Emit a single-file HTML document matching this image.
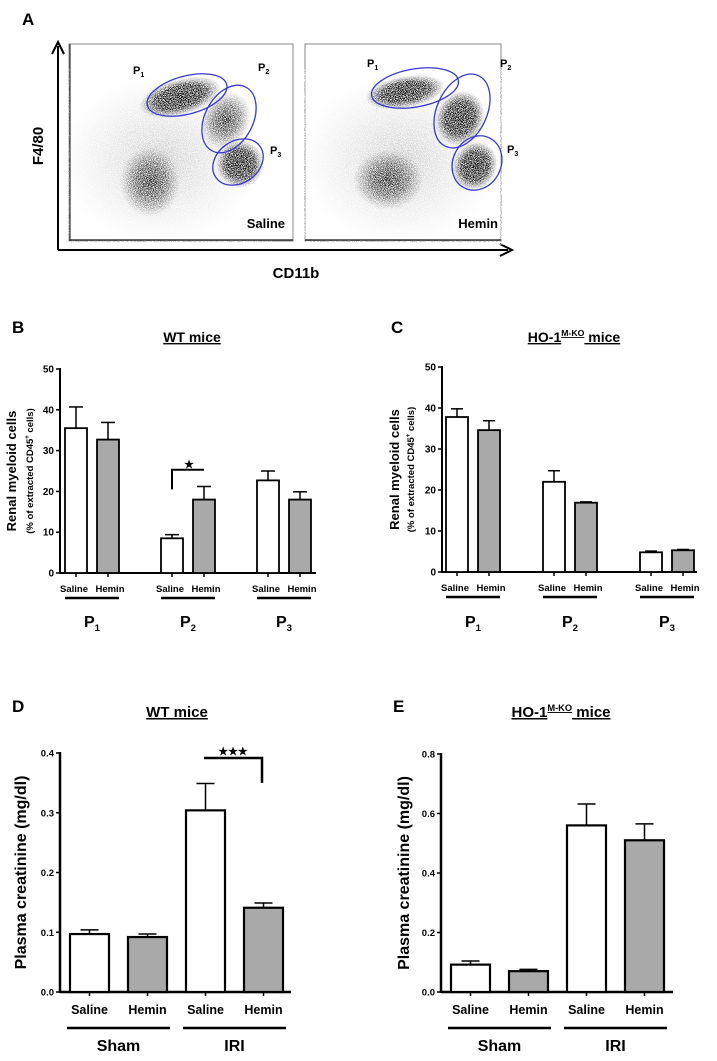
<!DOCTYPE html>
<html><head><meta charset="utf-8">
<style>
html,body{margin:0;padding:0;background:#fff;}
svg{display:block;font-family:"Liberation Sans",Arial,sans-serif;font-weight:bold;}
</style></head>
<body>
<svg id="fig" width="717" height="1061" viewBox="0 0 717 1061" xmlns="http://www.w3.org/2000/svg">
<defs>
<radialGradient id="blobDense"><stop offset="0" stop-color="#000" stop-opacity="1"/><stop offset="0.6" stop-color="#000" stop-opacity="0.85"/><stop offset="1" stop-color="#222" stop-opacity="0"/></radialGradient>
<radialGradient id="blobMid"><stop offset="0" stop-color="#000" stop-opacity="0.9"/><stop offset="0.5" stop-color="#111" stop-opacity="0.6"/><stop offset="1" stop-color="#333" stop-opacity="0"/></radialGradient>
<radialGradient id="blobFaint"><stop offset="0" stop-color="#444" stop-opacity="0.3"/><stop offset="1" stop-color="#777" stop-opacity="0"/></radialGradient>
<filter id="speck" x="0" y="0" width="100%" height="100%">
<feTurbulence type="fractalNoise" baseFrequency="1.4" numOctaves="1" seed="3" result="n"/>
<feColorMatrix in="n" type="matrix" values="0 0 0 0 1  0 0 0 0 1  0 0 0 0 1  0 0 0 -7 3.6" result="holes"/>
<feComposite in="holes" in2="SourceGraphic" operator="over"/>
</filter>
</defs>

<g>
<text x="22" y="25" font-size="17">A</text>
<line x1="58" y1="250" x2="58" y2="46" stroke="#000" stroke-width="2"/>
<path d="M52,54 L58,42 L64,54" fill="none" stroke="#000" stroke-width="2"/>
<line x1="58" y1="250" x2="508" y2="250" stroke="#000" stroke-width="2"/>
<path d="M500,244 L512,250 L500,256" fill="none" stroke="#000" stroke-width="2"/>
<text x="296" y="278" font-size="15" text-anchor="middle">CD11b</text>
<text transform="translate(43,146) rotate(-90)" font-size="15" text-anchor="middle">F4/80</text>

<g>
<rect x="69" y="44" width="224" height="197" fill="#fff" stroke="#888" stroke-width="1"/>
<g filter="url(#speck)">
<ellipse cx="160" cy="160" rx="100" ry="85" fill="url(#blobFaint)"/>
<ellipse cx="150" cy="182" rx="30" ry="35" fill="url(#blobMid)"/>
<ellipse cx="180" cy="97" rx="42" ry="18" transform="rotate(-15 180 97)" fill="url(#blobDense)"/>
<ellipse cx="226" cy="120" rx="24" ry="30" transform="rotate(25 226 120)" fill="url(#blobMid)"/>
<ellipse cx="240" cy="164" rx="24" ry="24" transform="rotate(25 240 164)" fill="url(#blobDense)"/>
</g>
<line x1="69" y1="240" x2="293" y2="240" stroke="#333" stroke-width="1.5"/>
<line x1="70" y1="44" x2="70" y2="241" stroke="#333" stroke-width="1.2"/>
<ellipse cx="187" cy="95" rx="41" ry="19" transform="rotate(-15 187 95)" fill="none" stroke="#3a3acc" stroke-width="1.3"/>
<ellipse cx="229" cy="119" rx="24" ry="36" transform="rotate(28 229 119)" fill="none" stroke="#3a3acc" stroke-width="1.3"/>
<ellipse cx="238" cy="162" rx="27" ry="21" transform="rotate(-35 238 162)" fill="none" stroke="#3a3acc" stroke-width="1.3"/>
<text x="133" y="74" font-size="11">P<tspan font-size="7" dy="3">1</tspan></text>
<text x="258" y="71" font-size="11">P<tspan font-size="7" dy="3">2</tspan></text>
<text x="270" y="154" font-size="11">P<tspan font-size="7" dy="3">3</tspan></text>
<text x="285" y="228" font-size="13" text-anchor="end">Saline</text>
</g>

<g>
<rect x="305" y="44" width="196" height="197" fill="#fff" stroke="#888" stroke-width="1"/>
<g filter="url(#speck)">
<ellipse cx="400" cy="160" rx="100" ry="85" fill="url(#blobFaint)"/>
<ellipse cx="388" cy="180" rx="35" ry="30" fill="url(#blobMid)"/>
<ellipse cx="405" cy="92" rx="40" ry="16" transform="rotate(-10 405 92)" fill="url(#blobDense)"/>
<ellipse cx="460" cy="118" rx="24" ry="28" transform="rotate(25 460 118)" fill="url(#blobDense)"/>
<ellipse cx="475" cy="166" rx="22" ry="25" transform="rotate(25 475 166)" fill="url(#blobDense)"/>
</g>
<line x1="305" y1="240" x2="501" y2="240" stroke="#333" stroke-width="1.5"/>
<ellipse cx="415" cy="88" rx="44" ry="19" transform="rotate(-10 415 88)" fill="none" stroke="#3a3acc" stroke-width="1.3"/>
<ellipse cx="462" cy="111" rx="25" ry="39" transform="rotate(25 462 111)" fill="none" stroke="#3a3acc" stroke-width="1.3"/>
<ellipse cx="477" cy="163" rx="24" ry="28" transform="rotate(28 477 163)" fill="none" stroke="#3a3acc" stroke-width="1.3"/>
<text x="367" y="67" font-size="11">P<tspan font-size="7" dy="3">1</tspan></text>
<text x="500" y="67" font-size="11">P<tspan font-size="7" dy="3">2</tspan></text>
<text x="507" y="153" font-size="11">P<tspan font-size="7" dy="3">3</tspan></text>
<text x="498" y="228" font-size="13" text-anchor="end">Hemin</text>
</g>
</g>
<g id="charts"></g>
</svg>
<script>
// Panel B (WT mice, myeloid cells)
const bGroups = ["1", "2", "3"];
const bSaline = [35.5, 8.5, 22.7];
const bSalineErr = [5.2, 0.9, 2.3];
const bHemin = [32.7, 18.0, 18.0];
const bHeminErr = [4.2, 3.2, 1.9];
const bTicks = [0, 10, 20, 30, 40, 50];
// Panel C (HO-1 M-KO mice, myeloid cells)
const cGroups = ["1", "2", "3"];
const cSaline = [37.8, 22.0, 4.8];
const cSalineErr = [2.0, 2.7, 0.3];
const cHemin = [34.6, 16.9, 5.3];
const cHeminErr = [2.3, 0.2, 0.2];
const cTicks = [0, 10, 20, 30, 40, 50];
// Panel D (WT plasma creatinine)
const dGroups = ["Sham", "IRI"];
const dSaline = [0.097, 0.304];
const dSalineErr = [0.007, 0.045];
const dHemin = [0.092, 0.141];
const dHeminErr = [0.005, 0.008];
const dTicks = ["0.0", "0.1", "0.2", "0.3", "0.4"];
// Panel E (HO-1 M-KO plasma creatinine)
const eGroups = ["Sham", "IRI"];
const eSaline = [0.092, 0.56];
const eSalineErr = [0.012, 0.072];
const eHemin = [0.070, 0.51];
const eHeminErr = [0.006, 0.055];
const eTicks = ["0.0", "0.2", "0.4", "0.6", "0.8"];

const NS = "http://www.w3.org/2000/svg";
const root = document.getElementById("charts");
function mk(tag, attrs, parent, txt) {
  const e = document.createElementNS(NS, tag);
  for (const k in attrs) e.setAttribute(k, attrs[k]);
  if (txt !== undefined) e.textContent = txt;
  (parent || root).appendChild(e);
  return e;
}

function drawChart(o) {
  const g = mk("g", {});
  
  
  const ticks = o.ticks.map(Number);
  const tmax = ticks[ticks.length - 1];
  const y = v => o.y0 - (v / tmax) * (o.y0 - o.yTop);
  const pl = mk("text", {x: o.labelX, y: o.labelY, "font-size": 17}, g, o.letter);
  
  
  const tt = mk("text", {x: o.titleX, y: o.titleY, "font-size": o.titleSize, "text-anchor": "middle", "text-decoration": "underline"}, g);
  
  
  if (o.ko) {
    mk("tspan", {}, tt, "HO-1");
    mk("tspan", {"font-size": o.titleSize * 0.62, dy: -6}, tt, "M-KO");
    mk("tspan", {dy: 6}, tt, " mice");
  } else tt.textContent = "WT mice";
  const ax = mk("line", {x1: o.x0, y1: o.yTop - 1, x2: o.x0, y2: o.y0 + 1, stroke: "#000", "stroke-width": o.axW}, g);
  
  
  o.ticks.forEach(t => {
    const yy = y(Number(t));
    mk("line", {x1: o.x0 - 4, y1: yy, x2: o.x0, y2: yy, stroke: "#000", "stroke-width": 1.5}, g);
    const tl = mk("text", {x: o.x0 - 6, y: yy + 3.5, "font-size": o.tickSize, "text-anchor": "end"}, g, t);
    
    
  });
  const xa = mk("line", {x1: o.x0, y1: o.y0, x2: o.xEnd, y2: o.y0, stroke: "#000", "stroke-width": o.axW}, g);
  
  
  const yt = mk("text", {transform: `translate(${o.ytX},${(o.y0 + o.yTop) / 2}) rotate(-90)`, "font-size": o.ytSize, "text-anchor": "middle"}, g, o.ytitle);
  
  
  if (o.ytitle2) {
    const yt2 = mk("text", {transform: `translate(${o.ytX + o.subOff},${(o.y0 + o.yTop) / 2}) rotate(-90)`, "font-size": 9.5, "text-anchor": "middle"}, g);
    
    
    mk("tspan", {}, yt2, "(% of extracted CD45");
    mk("tspan", {"font-size": 6, dy: -4}, yt2, "+");
    mk("tspan", {dy: 4}, yt2, " cells)");
  }
  o.groups.forEach((grp, i) => {
    const gx = o.gStart + i * o.gStep;
    const series = [[o.saline, o.salineErr, "#fff", "Saline", 0], [o.hemin, o.heminErr, "#a9a9a9", "Hemin", o.bStep]];
    series.forEach(([vals, errs, fill, lab, off]) => {
      const bx = gx + off, cx = bx + o.bw / 2;
      const top = y(vals[i]), et = y(vals[i] + errs[i]);
      mk("line", {x1: cx, y1: top, x2: cx, y2: et, stroke: "#000", "stroke-width": 1.5}, g);
      mk("line", {x1: cx - o.capW, y1: et, x2: cx + o.capW, y2: et, stroke: "#000", "stroke-width": 1.5}, g);
      const r = mk("rect", {x: bx, y: top, width: o.bw, height: o.y0 - top, fill: fill, stroke: "#000", "stroke-width": o.barW}, g);
      
      
      mk("line", {x1: cx, y1: o.y0, x2: cx, y2: o.y0 + 4, stroke: "#000", "stroke-width": 1.5}, g);
      const xl = mk("text", {x: cx + (o.labShift ? (off ? o.labShift : -o.labShift) : 0), y: o.labY, "font-size": o.labSize, "text-anchor": "middle"}, g, lab);
      
      
    });
    const mid = gx + (o.bStep + o.bw) / 2;
    mk("line", {x1: gx + o.ulIn, y1: o.ulY, x2: gx + o.bStep + o.bw - o.ulIn, y2: o.ulY, stroke: "#000", "stroke-width": 2.5}, g);
    const gl = mk("text", {x: mid, y: o.gY, "font-size": o.gSize, "text-anchor": "middle"}, g);
    
    
    if (o.pLabels) {
      mk("tspan", {}, gl, "P");
      mk("tspan", {"font-size": o.gSize * 0.6, dy: 4}, gl, grp);
    } else gl.textContent = grp;
  });
  return {g, y};
}

const B = drawChart({name: "panel-b-chart", letter: "B", labelX: 12, labelY: 333, titleX: 192, titleY: 342, titleSize: 14, pLabels: true,
  groups: bGroups, saline: bSaline, salineErr: bSalineErr, hemin: bHemin, heminErr: bHeminErr, ticks: bTicks,
  x0: 60, xEnd: 316, y0: 573, yTop: 369, axW: 2, tickSize: 10, ytX: 16, subOff: 17, ytSize: 13, ytitle: "Renal myeloid  cells", ytitle2: true,
  gStart: 65, gStep: 96, bStep: 32, bw: 22, capW: 7, barW: 1.8, labY: 592, labSize: 9.5, labShift: 2, ulY: 598, ulIn: 0, gY: 627, gSize: 16});
(function(){
  const g = B.g, yb = B.y(25.3);
  const br = mk("path", {d: `M172,${B.y(20.5)} L172,${yb} L204,${yb}`, fill: "none", stroke: "#000", "stroke-width": 2}, g);
  
  
  mk("text", {x: 189, y: yb - 2, "font-size": 11, "text-anchor": "middle"}, g, "★");
})();

drawChart({name: "panel-c-chart", letter: "C", labelX: 391, labelY: 333, titleX: 574, titleY: 342, titleSize: 14, ko: true, pLabels: true,
  groups: cGroups, saline: cSaline, salineErr: cSalineErr, hemin: cHemin, heminErr: cHeminErr, ticks: cTicks,
  x0: 442, xEnd: 697, y0: 572, yTop: 367, axW: 2, tickSize: 10, ytX: 399, subOff: 15, ytSize: 13, ytitle: "Renal myeloid  cells", ytitle2: true,
  gStart: 446, gStep: 97, bStep: 32, bw: 22, capW: 6, barW: 1.8, labY: 591, labSize: 9.5, labShift: 2, ulY: 597, ulIn: 0, gY: 627, gSize: 16});

const D = drawChart({name: "panel-d-chart", letter: "D", labelX: 12, labelY: 712, titleX: 177, titleY: 717, titleSize: 15,
  groups: dGroups, saline: dSaline, salineErr: dSalineErr, hemin: dHemin, heminErr: dHeminErr, ticks: dTicks,
  x0: 60, xEnd: 291, y0: 992, yTop: 753, axW: 2.5, tickSize: 9.5, ytX: 26, ytSize: 16, ytitle: "Plasma creatinine (mg/dl)",
  gStart: 70, gStep: 116, bStep: 58, bw: 39, capW: 9, barW: 2.2, labY: 1014, labSize: 12.5, ulY: 1028, ulIn: -3, gY: 1051, gSize: 16});
(function(){
  const g = D.g, yb = D.y(0.4) + 5;
  const br = mk("path", {d: `M204,${yb} L262,${yb} L262,${D.y(0.35)}`, fill: "none", stroke: "#000", "stroke-width": 2.5}, g);
  
  
  mk("text", {x: 233, y: yb - 3, "font-size": 11, "text-anchor": "middle"}, g, "★★★");
})();

drawChart({name: "panel-e-chart", letter: "E", labelX: 393, labelY: 712, titleX: 561, titleY: 717, titleSize: 15, ko: true,
  groups: eGroups, saline: eSaline, salineErr: eSalineErr, hemin: eHemin, heminErr: eHeminErr, ticks: eTicks,
  x0: 441, xEnd: 673, y0: 992, yTop: 754, axW: 2.5, tickSize: 9.5, ytX: 409, ytSize: 16, ytitle: "Plasma creatinine (mg/dl)",
  gStart: 451, gStep: 116, bStep: 58, bw: 39, capW: 9, barW: 2.2, labY: 1014, labSize: 12.5, ulY: 1028, ulIn: -3, gY: 1051, gSize: 16});
</script>
</body></html>
